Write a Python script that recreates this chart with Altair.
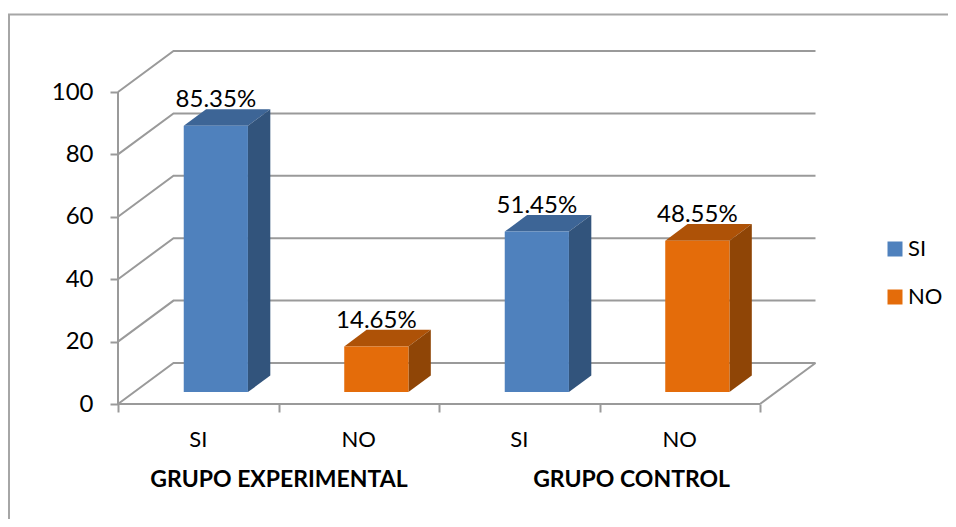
import altair as alt
import pandas as pd

# ---- values
categories = ["SI", "NO", "SI", "NO"]
values = [85.35, 14.65, 51.45, 48.55]
value_labels = ["85.35%", "14.65%", "51.45%", "48.55%"]
group_names = ["GRUPO EXPERIMENTAL", "GRUPO CONTROL"]
group_centres = [1.003, 3.2]
y_ticks = [0, 20, 40, 60, 80, 100]
x_ticks = [0, 1, 2, 3, 4]
series_names = ["SI", "NO"]
front_colors = ["#4F81BD", "#E46C0A"]
side_colors = ["#32547C", "#8F4506"]
top_colors = ["#3D6596", "#AE5207"]

# ---- projection of the pseudo-3D box (category units, value units)
PX_PER_CAT = 160.5
PX_PER_VAL = 3.12
PLOT_W, PLOT_H = 700, 353
DX, DY = 55.5 / PX_PER_CAT, 41 / PX_PER_VAL
BAR_FRONT_X, BAR_BACK_X = 0.317, 0.72
BAR_FRONT_Y, BAR_BACK_Y = 0.29, 0.695
BAR_W = 0.40
GRID = "#9A9A9A"
FONT = "Lato"


def to_x(px):
    return (px - 118) / PX_PER_CAT


def to_y(px):
    return (404 - px) / PX_PER_VAL


xs = alt.Scale(domain=[0, PLOT_W / PX_PER_CAT], nice=False, zero=False)
ys = alt.Scale(domain=[0, PLOT_H / PX_PER_VAL], nice=False, zero=False)

grid_rows = []
for v in y_ticks:
    grid_rows += [
        {"k": f"g{v}", "o": 0, "x": 0, "y": v},
        {"k": f"g{v}", "o": 1, "x": DX, "y": v + DY},
        {"k": f"g{v}", "o": 2, "x": x_ticks[-1] + DX, "y": v + DY},
    ]
grid_rows += [
    {"k": "yaxis", "o": 0, "x": 0, "y": y_ticks[0]},
    {"k": "yaxis", "o": 1, "x": 0, "y": y_ticks[-1]},
    {"k": "xaxis", "o": 0, "x": 0, "y": 0},
    {"k": "xaxis", "o": 1, "x": x_ticks[-1], "y": 0},
    {"k": "floor", "o": 0, "x": x_ticks[-1], "y": 0},
    {"k": "floor", "o": 1, "x": x_ticks[-1] + DX, "y": DY},
]
frame_rows = [
    {"k": "f", "o": 0, "x": to_x(9), "y": to_y(527)},
    {"k": "f", "o": 1, "x": to_x(9), "y": to_y(14.5)},
    {"k": "f", "o": 2, "x": to_x(956), "y": to_y(14.5)},
]

front, side, top, labels, cats = [], [], [], [], []
for i, (c, v, lab) in enumerate(zip(categories, values, value_labels)):
    s = series_names.index(c)
    xl = i + 0.5 - BAR_W / 2 + BAR_FRONT_X * DX
    xr = xl + BAR_W
    d = (BAR_BACK_X - BAR_FRONT_X) * DX
    y0f = BAR_FRONT_Y * DY
    y0b = BAR_BACK_Y * DY
    e = (BAR_BACK_Y - BAR_FRONT_Y) * DY
    yf = v + y0f
    yb = yf + e
    front.append({"serie": c, "x": xl, "x2": xr, "y": y0f, "y2": yf})
    side += [
        {"k": i, "x": xr, "y": y0f, "y2": yf, "c": side_colors[s]},
        {"k": i, "x": xr + d, "y": y0b, "y2": yb, "c": side_colors[s]},
    ]
    top += [
        {"k": i, "x": xl, "y": yf, "y2": yf, "c": top_colors[s]},
        {"k": i, "x": xl + d, "y": yf, "y2": yb, "c": top_colors[s]},
        {"k": i, "x": xr, "y": yf, "y2": yb, "c": top_colors[s]},
        {"k": i, "x": xr + d, "y": yb, "y2": yb, "c": top_colors[s]},
    ]
    labels.append({"x": i + 0.5 + BAR_FRONT_X * DX, "y": yb, "t": lab})
    cats.append({"x": i + 0.5, "y": to_y(447), "t": c})

groups = [{"x": x, "y": to_y(487), "t": t} for x, t in zip(group_centres, group_names)]

X = alt.X("x:Q", scale=xs, title=None,
          axis=alt.Axis(values=x_ticks, labels=False, domain=False, grid=False,
                        ticks=True, tickSize=8, tickColor=GRID, tickWidth=2))
Y = alt.Y("y:Q", scale=ys, title=None,
          axis=alt.Axis(values=y_ticks, domain=False, grid=False, ticks=True, tickSize=8,
                        tickColor=GRID, tickWidth=2, labelFont=FONT, labelFontSize=24,
                        labelColor="#000000", labelPadding=17))

frame = alt.Chart(pd.DataFrame(frame_rows)).mark_line(
    color="#A6A6A6", strokeWidth=2, clip=False
).encode(x=X, y=Y, order="o:Q")

grid = alt.Chart(pd.DataFrame(grid_rows)).mark_line(
    color=GRID, strokeWidth=2, clip=False
).encode(x=X, y=Y, detail="k:N", order="o:Q")

side_l = alt.Chart(pd.DataFrame(side)).mark_area(clip=False).encode(
    x=X, y=Y, y2="y2:Q", detail="k:N", color=alt.Color("c:N", scale=None))
top_l = alt.Chart(pd.DataFrame(top)).mark_area(clip=False).encode(
    x=X, y=Y, y2="y2:Q", detail="k:N", color=alt.Color("c:N", scale=None))

front_l = alt.Chart(pd.DataFrame(front)).mark_rect(clip=False).encode(
    x=X, x2="x2:Q", y=Y, y2="y2:Q",
    color=alt.Color(
        "serie:N",
        scale=alt.Scale(domain=series_names, range=front_colors),
        legend=alt.Legend(
            title=None, orient="none", legendX=766, legendY=187,
            symbolType="square", symbolSize=225, symbolStrokeWidth=0,
            labelFont=FONT, labelFontSize=22, labelColor="#000000",
            labelOffset=2, rowPadding=26, padding=0,
        ),
    ),
)


def text_layer(rows, size, weight="normal", dy=0):
    return alt.Chart(pd.DataFrame(rows)).mark_text(
        font=FONT, fontSize=size, fontWeight=weight, color="#000000",
        align="center", baseline="alphabetic", dy=dy, clip=False
    ).encode(x=X, y=Y, text="t:N")


chart = alt.layer(
    frame, grid, top_l, side_l, front_l,
    text_layer(labels, 24, dy=-2),
    text_layer(cats, 22),
    text_layer(groups, 23, "bold"),
).resolve_scale(color="independent").properties(
    width=PLOT_W, height=PLOT_H,
    padding={"left": 110, "top": 43, "right": 130, "bottom": 115},
    autosize=alt.AutoSizeParams(type="none"),
    background="white",
).configure_view(stroke=None)

chart.save("out.html", embed_options={"renderer": "svg", "actions": False})
